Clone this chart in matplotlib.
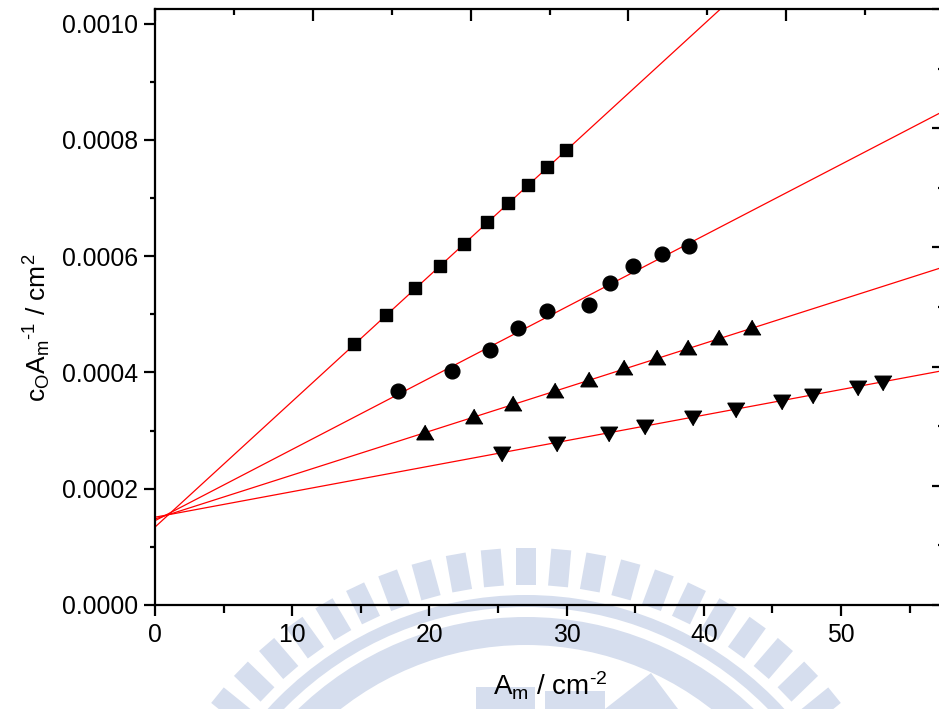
import numpy as np
import matplotlib
matplotlib.use("Agg")
import matplotlib.pyplot as plt
from matplotlib.patches import Wedge, Rectangle, Polygon
from matplotlib.ticker import MultipleLocator

plt.rcParams['font.family'] = ['Liberation Sans', 'DejaVu Sans']
plt.rcParams['mathtext.fontset'] = 'custom'
plt.rcParams['mathtext.rm'] = 'Liberation Sans'
plt.rcParams['mathtext.it'] = 'Liberation Sans:italic'
plt.rcParams['mathtext.bf'] = 'Liberation Sans:bold'

# ---- data ----
sq_x = [14.50, 16.84, 18.95, 20.77, 22.52, 24.20, 25.73, 27.19, 28.57, 29.96]
sq_y = [4.485e-4, 4.983e-4, 5.447e-4, 5.825e-4, 6.203e-4, 6.581e-4, 6.907e-4, 7.216e-4, 7.526e-4, 7.818e-4]

ci_x = [17.71, 21.65, 24.42, 26.46, 28.57, 31.63, 33.16, 34.84, 36.95, 38.92]
ci_y = [3.677e-4, 4.021e-4, 4.381e-4, 4.759e-4, 5.052e-4, 5.155e-4, 5.533e-4, 5.825e-4, 6.031e-4, 6.168e-4]

tu_x = [19.68, 23.25, 26.09, 29.15, 31.63, 34.18, 36.59, 38.85, 41.11, 43.51]
tu_y = [2.973e-4, 3.247e-4, 3.471e-4, 3.694e-4, 3.883e-4, 4.089e-4, 4.261e-4, 4.433e-4, 4.605e-4, 4.777e-4]

td_x = [25.29, 29.30, 33.09, 35.71, 39.21, 42.35, 45.70, 47.96, 51.24, 53.06]
td_y = [2.595e-4, 2.766e-4, 2.938e-4, 3.058e-4, 3.213e-4, 3.351e-4, 3.488e-4, 3.591e-4, 3.729e-4, 3.814e-4]

# linear fits (intercept, slope)
fit_intercepts = [1.34e-4, 1.45e-4, 1.48e-4, 1.51e-4]
fit_slopes = [2.162e-5, 1.2257e-5, 7.54e-6, 4.39e-6]

x_ticks = [0, 10, 20, 30, 40, 50]
y_ticks = [0.0, 0.0002, 0.0004, 0.0006, 0.0008, 0.0010]
y_ticklabels = ['0.0000', '0.0002', '0.0004', '0.0006', '0.0008', '0.0010']

XMAX = 57.5
YMAX = 0.001025

W, H = 939, 709
fig = plt.figure(figsize=(W / 100, H / 100), dpi=100)

# ---- watermark (background, pixel coordinates) ----
bg = fig.add_axes([0, 0, 1, 1], zorder=0)
bg.set_xlim(0, W)
bg.set_ylim(0, H)
bg.axis('off')
wm = '#d6deee'
cx, cy = 526, H - 945
r_in, r_out, tw = 360, 397, 20
for ang in np.arange(-76.5, 76.6, 5.1):
    a = np.deg2rad(ang)
    ux, uy = np.sin(a), np.cos(a)
    px, py = np.cos(a), -np.sin(a)
    pts = [(cx + ux * r_in - px * tw / 2, cy + uy * r_in - py * tw / 2),
           (cx + ux * r_out - px * tw / 2, cy + uy * r_out - py * tw / 2),
           (cx + ux * r_out + px * tw / 2, cy + uy * r_out + py * tw / 2),
           (cx + ux * r_in + px * tw / 2, cy + uy * r_in + py * tw / 2)]
    bg.add_patch(Polygon(pts, closed=True, facecolor=wm, edgecolor='none'))
bg.add_patch(Wedge((cx, cy), 350, 0, 180, width=12, facecolor=wm, edgecolor='none'))
bg.add_patch(Wedge((cx, cy), 328, 0, 180, width=28, facecolor=wm, edgecolor='none'))
bg.add_patch(Rectangle((476, 0), 59, 22, facecolor=wm, edgecolor='none'))
bg.add_patch(Rectangle((545, 0), 60, 18, facecolor=wm, edgecolor='none'))
bg.add_patch(Polygon([(605, 0), (651, 36), (678, 0)], closed=True, facecolor=wm, edgecolor='none'))

# ---- main axes ----
left = 155 / W
bottom = (H - 605) / H
width = (944 - 155) / W
height = (605 - 9) / H
ax = fig.add_axes([left, bottom, width, height], zorder=1)
ax.set_facecolor('none')

xs = np.array([0.0, XMAX])
for b, m in zip(fit_intercepts, fit_slopes):
    ax.plot(xs, b + m * xs, color='red', lw=0.9, zorder=2)

tri_up = [(0, 0.85), (-1, -0.85), (1, -0.85)]
tri_dn = [(0, -0.85), (-1, 0.85), (1, 0.85)]
ax.plot(sq_x, sq_y, ls='none', marker='s', ms=9.2, color='black', zorder=3)
ax.plot(ci_x, ci_y, ls='none', marker='o', ms=10.6, color='black', zorder=3)
ax.plot(tu_x, tu_y, ls='none', marker=tri_up, ms=12.3, color='black', zorder=3)
ax.plot(td_x, td_y, ls='none', marker=tri_dn, ms=12.3, color='black', zorder=3)

ax.set_xlim(0, XMAX)
ax.set_ylim(0, YMAX)
ax.set_xticks(x_ticks)
ax.set_yticks(y_ticks)
ax.set_yticklabels(y_ticklabels)
ax.xaxis.set_minor_locator(MultipleLocator(5))
ax.yaxis.set_minor_locator(MultipleLocator(0.0001))

lw = 1.6
for s in ax.spines.values():
    s.set_linewidth(lw)
ax.spines['top'].set_visible(False)
ax.spines['right'].set_visible(False)
ax.tick_params(axis='both', which='major', direction='out', length=8, width=lw,
               labelsize=17.8, pad=4)
ax.tick_params(axis='x', which='major', pad=5)
ax.tick_params(axis='x', which='minor', direction='out', length=5.8, width=lw)
ax.tick_params(axis='y', which='minor', direction='out', length=3.5, width=lw)

# top axis ticks (inward)
axt = ax.twiny()
axt.set_xlim(0, 5)
axt.xaxis.set_major_locator(MultipleLocator(1))
axt.xaxis.set_minor_locator(MultipleLocator(0.5))
axt.tick_params(axis='x', which='major', direction='in', length=8.4, width=lw,
                labeltop=False, top=True)
axt.tick_params(axis='x', which='minor', direction='in', length=4.3, width=lw, top=True)
for k, s in axt.spines.items():
    s.set_visible(k == 'top')
    s.set_linewidth(lw)

# right axis ticks (inward)
axr = ax.twinx()
axr.set_ylim(0, 5)
axr.yaxis.set_major_locator(MultipleLocator(1))
axr.yaxis.set_minor_locator(MultipleLocator(0.5))
axr.tick_params(axis='y', which='major', direction='in', length=8.4, width=lw,
                labelright=False, right=True)
axr.tick_params(axis='y', which='minor', direction='in', length=4.3, width=lw, right=True)
for k, s in axr.spines.items():
    s.set_visible(k == 'right')
    s.set_linewidth(lw)

# axis labels
fig.text(550 / W, 1 - 696 / H, r'A$_\mathrm{m}$ / cm$^\text{-2}$', fontsize=20,
         ha='center', va='baseline')
fig.text(22 / W, 1 - 328 / H, r'c$_\mathrm{O}$A$_\mathrm{m}{}^\text{-1}$ / cm$^\mathrm{2}$',
         fontsize=19, rotation=90, ha='left', va='center')

fig.savefig('out.png', dpi=100)
